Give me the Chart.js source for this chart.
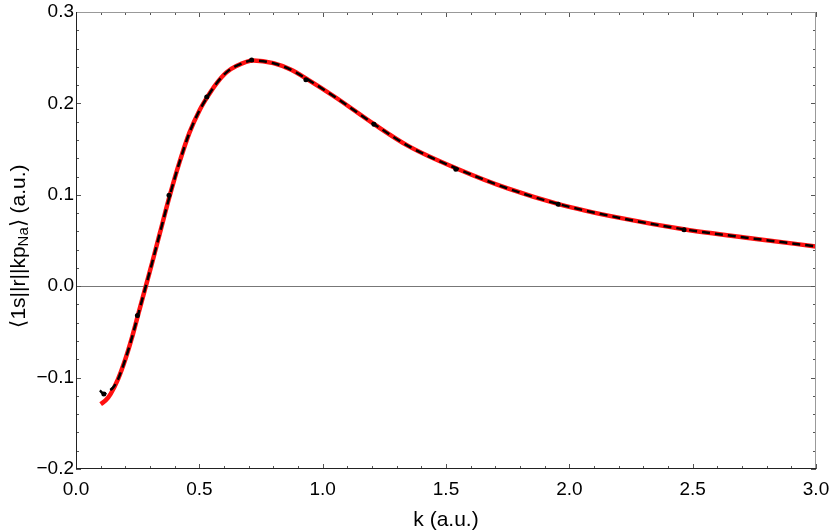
<!DOCTYPE html>
<html>
<head>
<meta charset="utf-8">
<script src="https://cdn.jsdelivr.net/npm/chart.js@4"></script>
<style>
  html, body { margin: 0; padding: 0; background: #fff; }
  #wrap { width: 830px; height: 531px; }
</style>
</head>
<body>
<div id="wrap"><canvas id="chart" width="830" height="531"></canvas></div>
<script>
// matrix element vs k

// red solid curve
const redK   = [0.10, 0.12, 0.14, 0.17, 0.20, 0.225, 0.25, 0.28, 0.31, 0.34, 0.38, 0.42, 0.46, 0.50, 0.53, 0.57, 0.61, 0.65, 0.72,
                0.80, 0.87, 0.94, 1.05, 1.21, 1.35, 1.55, 1.75, 1.96, 2.20, 2.47, 2.75, 3.00];
const redVal = [-0.129, -0.125, -0.118, -0.102, -0.080, -0.058, -0.033, -0.003, 0.027, 0.058, 0.099, 0.136, 0.168, 0.192, 0.206, 0.222, 0.234, 0.241, 0.247,
                0.244, 0.237, 0.226, 0.207, 0.177, 0.153, 0.128, 0.107, 0.0896, 0.075, 0.062, 0.052, 0.0435];

// black dashed curve (differs only at the very start)
const blackK   = [0.097, 0.113, 0.13, 0.15, 0.17, 0.20, 0.225, 0.25, 0.28, 0.31, 0.34, 0.38, 0.42, 0.46, 0.50, 0.53, 0.57, 0.61, 0.65, 0.72,
                  0.80, 0.87, 0.94, 1.05, 1.21, 1.35, 1.55, 1.75, 1.96, 2.20, 2.47, 2.75, 3.00];
const blackVal = [-0.114, -0.118, -0.115, -0.111, -0.102, -0.080, -0.058, -0.033, -0.003, 0.027, 0.058, 0.099, 0.136, 0.168, 0.192, 0.206, 0.222, 0.234, 0.241, 0.247,
                  0.244, 0.237, 0.226, 0.207, 0.177, 0.153, 0.128, 0.107, 0.0896, 0.075, 0.062, 0.052, 0.0435];

// black dots on the dashed curve
const dotK   = [0.113, 0.249, 0.377, 0.530, 0.712, 0.932, 1.208, 1.540, 1.955, 2.465];
const dotVal = [-0.118, -0.032, 0.0995, 0.207, 0.2474, 0.226, 0.1772, 0.128, 0.0896, 0.0618];

const xTicks = [0.0, 0.5, 1.0, 1.5, 2.0, 2.5, 3.0];
const yTicks = [-0.2, -0.1, 0.0, 0.1, 0.2, 0.3];

const xTitle = 'k (a.u.)';
const yTitleMain = '\u27e81s||r||kp';
const yTitleSub = 'Na';
const yTitleEnd = '\u27e9 (a.u.)';

const FONT = '"Liberation Sans", Arial, Helvetica, sans-serif';

function pts(xs, ys) {
    return xs.map((x, i) => ({ x: x, y: ys[i] }));
}

function fmt(v) {
    return v.toFixed(1).replace('-', '\u2212');
}

// frame, inward ticks, zero line and axis titles
const framePlugin = {
    id: 'frame',
    beforeDatasetsDraw(chart) {
        const ctx = chart.ctx;
        const a = chart.chartArea;
        const y0 = chart.scales.y.getPixelForValue(0);
        ctx.save();
        ctx.strokeStyle = '#777';
        ctx.lineWidth = 1;
        ctx.beginPath();
        ctx.moveTo(a.left, Math.round(y0) + 0.5);
        ctx.lineTo(a.right, Math.round(y0) + 0.5);
        ctx.stroke();
        ctx.restore();
    },
    afterDraw(chart) {
        const ctx = chart.ctx;
        const a = chart.chartArea;
        const xs = chart.scales.x;
        const ys = chart.scales.y;
        ctx.save();
        ctx.lineWidth = 1;

        // ticks
        ctx.strokeStyle = '#555';
        ctx.beginPath();
        for (let i = 0; i <= 30; i++) {
            const v = i / 10;
            const len = (i % 5 === 0) ? 5 : 3;
            const px = Math.round(xs.getPixelForValue(v)) + 0.5;
            ctx.moveTo(px, a.bottom); ctx.lineTo(px, a.bottom - len);
            ctx.moveTo(px, a.top); ctx.lineTo(px, a.top + len);
        }
        for (let i = -10; i <= 15; i++) {
            const v = i / 50;
            const len = (i % 5 === 0) ? 5 : 3;
            const py = Math.round(ys.getPixelForValue(v)) + 0.5;
            ctx.moveTo(a.left, py); ctx.lineTo(a.left + len, py);
            ctx.moveTo(a.right, py); ctx.lineTo(a.right - len, py);
        }
        ctx.stroke();

        // frame
        ctx.strokeStyle = '#999';
        ctx.beginPath();
        ctx.moveTo(a.left, a.top + 0.5); ctx.lineTo(a.right, a.top + 0.5);
        ctx.moveTo(a.right - 0.5, a.top); ctx.lineTo(a.right - 0.5, a.bottom);
        ctx.stroke();
        ctx.strokeStyle = '#222';
        ctx.beginPath();
        ctx.moveTo(a.left + 0.5, a.top); ctx.lineTo(a.left + 0.5, a.bottom);
        ctx.moveTo(a.left, a.bottom - 0.5); ctx.lineTo(a.right, a.bottom - 0.5);
        ctx.stroke();

        // x title
        ctx.fillStyle = '#000';
        ctx.font = '21px ' + FONT;
        ctx.textAlign = 'center';
        ctx.textBaseline = 'middle';
        ctx.fillText(xTitle, (a.left + a.right) / 2, 520);

        // y title with subscript
        const big = '21px ' + FONT;
        const small = '15px ' + FONT;
        ctx.font = big;
        const w1 = ctx.measureText(yTitleMain).width;
        const w3 = ctx.measureText(yTitleEnd).width;
        ctx.font = small;
        const w2 = ctx.measureText(yTitleSub).width;
        const total = w1 + w2 + w3;
        ctx.translate(19, 246);
        ctx.rotate(-Math.PI / 2);
        ctx.textAlign = 'left';
        let x = -total / 2;
        ctx.font = big;
        ctx.fillText(yTitleMain, x, 0);
        x += w1;
        ctx.font = small;
        ctx.fillText(yTitleSub, x, 5);
        x += w2;
        ctx.font = big;
        ctx.fillText(yTitleEnd, x, 0);
        ctx.restore();
    }
};

new Chart(document.getElementById('chart').getContext('2d'), {
    type: 'line',
    data: {
        datasets: [{
            data: pts(redK, redVal),
            borderColor: '#ff1010',
            borderWidth: 4.5,
            pointRadius: 0,
            cubicInterpolationMode: 'monotone',
            order: 3
        }, {
            data: pts(blackK, blackVal),
            borderColor: '#000',
            borderWidth: 2.5,
            borderDash: [8, 5],
            pointRadius: 0,
            cubicInterpolationMode: 'monotone',
            order: 2
        }, {
            data: pts(dotK, dotVal),
            showLine: false,
            pointRadius: 2.5,
            pointBackgroundColor: '#000',
            pointBorderWidth: 0,
            order: 1
        }]
    },
    options: {
        responsive: false,
        animation: false,
        layout: { padding: { left: 0, right: 14, top: 12, bottom: 0 } },
        plugins: { legend: { display: false }, tooltip: { enabled: false } },
        scales: {
            x: {
                type: 'linear',
                min: 0, max: 3,
                grid: { display: false, drawTicks: false },
                border: { display: false },
                afterBuildTicks: s => { s.ticks = xTicks.map(v => ({ value: v })); },
                afterFit: s => { s.height = 62; s.paddingLeft = 0; s.paddingRight = 0; },
                ticks: {
                    padding: 9,
                    color: '#000',
                    font: { family: FONT, size: 19 },
                    callback: v => fmt(v)
                }
            },
            y: {
                min: -0.2, max: 0.3,
                grid: { display: false, drawTicks: false },
                border: { display: false },
                afterBuildTicks: s => { s.ticks = yTicks.map(v => ({ value: v })); },
                afterFit: s => { s.width = 76; s.paddingTop = 0; s.paddingBottom = 0; },
                ticks: {
                    padding: 2,
                    color: '#000',
                    font: { family: FONT, size: 19 },
                    callback: v => fmt(v)
                }
            }
        }
    },
    plugins: [framePlugin]
});
</script>
</body>
</html>
